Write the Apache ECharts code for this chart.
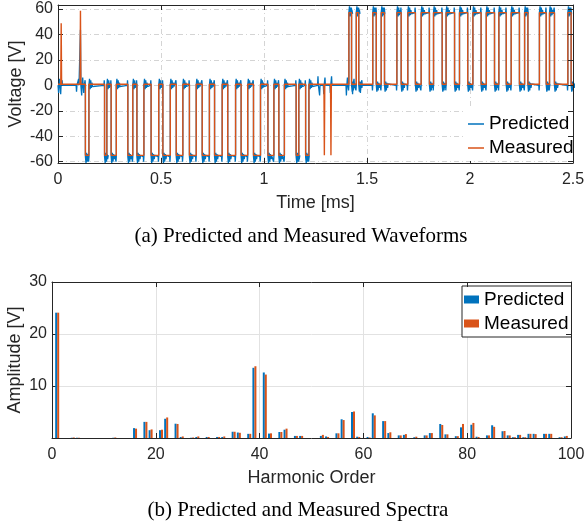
<!DOCTYPE html>
<html>
<head>
<meta charset="utf-8">
<script src="https://cdn.jsdelivr.net/npm/echarts@6.0.0/dist/echarts.min.js"></script>
<style>
html,body{margin:0;padding:0;background:#fff;}
#c{width:587px;height:524px;}
</style>
</head>
<body>
<div id="c"></div>
<script>
// ---------------- Waveform data (times in ms, voltages in V) ----------------
// Negative pulses (both series): [start, end]
const negPulses = [
  [0.133,0.150],[0.226,0.237],[0.258,0.283],[0.339,0.363],[0.383,0.417],
  [0.452,0.489],[0.509,0.545],[0.574,0.606],[0.638,0.671],[0.700,0.735],
  [0.760,0.797],[0.824,0.862],[0.889,0.921],[0.949,0.983],[1.019,1.048],
  [1.072,1.099],[1.156,1.169],[1.202,1.218]
];
// Positive pulses (both series): [start, end]
const posPulses = [
  [1.412,1.425],[1.448,1.460],[1.528,1.545],[1.569,1.585],[1.645,1.666],
  [1.698,1.735],[1.763,1.803],[1.823,1.865],[1.884,1.925],[1.949,1.989],
  [2.014,2.054],[2.079,2.119],[2.140,2.176],[2.200,2.240],[2.265,2.281],
  [2.337,2.370],[2.386,2.410],[2.475,2.491]
];
// Pulse plateau levels
const predictedLevels = {neg: -56, zero: 0, pos: 57};
const measuredLevels  = {neg: -55, zero: 0.8, pos: 57};
// Ringing seen on the predicted trace at each switching edge (V), sample step (ms)
const predictedRinging = [5, -3, 4, -2, 2, -1];
const ringStep = 0.003;
// Isolated spikes [time, value]
const measuredSpikes = [[0.0155,48.7],[0.109,58.4],[1.293,-55],[1.325,-55]];
const predictedSpikes = [
  [0.003,-6],[0.008,5],[0.013,-7],[0.020,4],[0.090,-5],[0.100,5],[0.109,43.5],
  [0.115,-8],[0.120,6],[0.125,-6],[1.262,7],[1.270,-8],[1.290,-7],[1.296,6],
  [1.322,-6],[1.328,7],[1.400,-8],[1.405,6],[1.430,-7],[1.437,5],[1.468,-6],[1.475,4]
];

// ---------------- Spectrum data ----------------
const harmonics = [1,4,5,12,16,18,19,21,22,24,25,27,28,30,32,33,35,36,38,39,41,42,44,45,47,48,
  52,53,55,56,58,59,61,62,64,65,67,68,70,72,73,75,76,78,79,81,82,84,85,87,88,89,90,91,92,93,95,96,98,99];
const predictedAmp = [24.1,0.05,0.05,0.05,1.9,3.1,1.5,1.5,3.7,2.75,0.2,0.05,0.2,0.2,0.2,0.2,1.2,1.05,0.8,13.5,12.6,0.85,1.15,1.6,0.4,0.4,
  0.4,0.3,0.9,3.6,5.0,0.25,0.2,4.75,3.25,0.95,0.5,0.6,0.15,0.5,0.95,2.7,0.7,0.35,2.05,2.55,0.25,0.5,2.45,1.3,0.5,0.15,0.6,0.15,0.8,0.8,0.8,0.8,0.15,0.3];
const measuredAmp = [24.1,0.1,0.05,0.1,1.8,3.1,1.65,1.6,3.95,2.7,0.3,0.1,0.3,0.2,0.2,0.3,1.2,1.0,0.8,13.8,12.2,0.9,1.15,1.8,0.4,0.4,
  0.6,0.2,0.9,3.45,5.1,0.2,0.1,4.35,3.25,1.1,0.5,0.75,0.25,0.5,0.95,2.5,0.7,0.35,2.7,2.9,0.2,0.5,2.15,1.35,0.5,0.15,0.6,0.15,0.8,0.75,0.8,0.8,0.15,0.4];

// ---------------- Build series data ----------------
function edgePts(t, from, to, ring) {
  const s = Math.sign(to - from);
  const pts = [];
  if (ring) {
    pts.push([t - ringStep, from]);
    pts.push([t - ringStep / 2, from - s * ring[0] * 0.8]);
  }
  pts.push([t, from]);
  pts.push([t, to]);
  if (ring) {
    ring.forEach((r, i) => pts.push([t + (i + 1) * ringStep, to + s * r]));
    pts.push([t + (ring.length + 1) * ringStep, to]);
  }
  return pts;
}
function buildWave(levels, ring, spikes) {
  const ev = [];
  negPulses.forEach(([a, b]) => {
    ev.push({t: a, pts: edgePts(a, levels.zero, levels.neg, ring)});
    ev.push({t: b, pts: edgePts(b, levels.neg, levels.zero, ring)});
  });
  posPulses.forEach(([a, b]) => {
    ev.push({t: a, pts: edgePts(a, levels.zero, levels.pos, ring)});
    ev.push({t: b, pts: edgePts(b, levels.pos, levels.zero, ring)});
  });
  spikes.forEach(([t, v]) => ev.push({t: t, pts: [[t - 0.002, levels.zero], [t, v], [t + 0.002, levels.zero]]}));
  ev.sort((p, q) => p.t - q.t);
  const data = [[0, levels.zero]];
  ev.forEach(e => e.pts.forEach(p => data.push(p)));
  data.push([2.5, levels.zero]);
  return data;
}
const predictedWave = buildWave(predictedLevels, predictedRinging, predictedSpikes);
const measuredWave = buildWave(measuredLevels, null, measuredSpikes);
const predictedBars = harmonics.map((h, i) => [h, predictedAmp[i]]);
const measuredBars = harmonics.map((h, i) => [h, measuredAmp[i]]);

// ---------------- Styles ----------------
const ink = '#262626';
const blue = '#0072BD';
const orange = '#D95319';
const sans = '"Liberation Sans", Arial, Helvetica, sans-serif';
const serif = '"Liberation Serif", "Times New Roman", serif';
const labelNames = {pw: 'Predicted', mw: 'Measured', ps: 'Predicted', ms: 'Measured'};

function boxAxis(gridIndex, position, extra) {
  return Object.assign({
    type: 'value', gridIndex: gridIndex, position: position,
    axisLine: {show: true, onZero: false, lineStyle: {color: ink, width: 1}},
    axisTick: {show: true, inside: true, length: 5, lineStyle: {color: ink}},
    axisLabel: {show: false},
    splitLine: {show: false},
    nameMoveOverlap: false,
    z: 0
  }, extra);
}
const waveSplit = {show: true, lineStyle: {color: '#d4d4d4', width: 1, type: [5, 3, 1, 3]}};
const specSplit = {show: true, lineStyle: {color: '#e2e2e2', width: 1}};
const tickLabel = {show: true, color: ink, fontFamily: sans, fontSize: 16};

const chart = echarts.init(document.getElementById('c'), null, {renderer: 'canvas'});
chart.setOption({
  animation: false,
  backgroundColor: '#fff',
  grid: [
    {left: 58, top: 5, right: 14, height: 158, containLabel: false, outerBoundsMode: 'none'},
    {left: 52, top: 282, right: 16, height: 156, containLabel: false, outerBoundsMode: 'none'}
  ],
  xAxis: [
    boxAxis(0, 'bottom', {min: 0, max: 2.5, interval: 0.5,
      axisLabel: Object.assign({}, tickLabel, {margin: 9}),
      splitLine: waveSplit,
      name: 'Time [ms]', nameLocation: 'middle', nameGap: 31,
      nameTextStyle: {color: ink, fontFamily: sans, fontSize: 18}}),
    boxAxis(0, 'top', {min: 0, max: 2.5, interval: 0.5, z: 10}),
    boxAxis(1, 'bottom', {min: 0, max: 100, interval: 20,
      axisLabel: Object.assign({}, tickLabel, {margin: 9}),
      splitLine: specSplit,
      name: 'Harmonic Order', nameLocation: 'middle', nameGap: 31,
      nameTextStyle: {color: ink, fontFamily: sans, fontSize: 18}}),
    boxAxis(1, 'top', {min: 0, max: 100, interval: 20, z: 10})
  ],
  yAxis: [
    boxAxis(0, 'left', {min: -61, max: 63, splitNumber: 5,
      axisLabel: Object.assign({}, tickLabel, {margin: 5, showMinLabel: false, showMaxLabel: false}),
      splitLine: waveSplit,
      name: 'Voltage [V]', nameLocation: 'middle', nameGap: 33,
      nameTextStyle: {color: ink, fontFamily: sans, fontSize: 18}}),
    boxAxis(0, 'right', {min: -61, max: 63, splitNumber: 5, z: 10}),
    boxAxis(1, 'left', {min: 0, max: 30, interval: 10,
      axisLabel: Object.assign({}, tickLabel, {margin: 5, showMinLabel: false}),
      splitLine: specSplit,
      name: 'Amplitude [V]', nameLocation: 'middle', nameGap: 28,
      nameTextStyle: {color: ink, fontFamily: sans, fontSize: 18}}),
    boxAxis(1, 'right', {min: 0, max: 30, interval: 10, z: 10})
  ],
  legend: [
    {
      data: ['pw', 'mw'], orient: 'vertical', left: 463, top: 109,
      padding: [4, 0, 2, 5], itemGap: 2, itemWidth: 16, itemHeight: 1.5,
      icon: 'rect', itemStyle: {borderWidth: 0},
      backgroundColor: '#fff', borderWidth: 0, z: 5,
      formatter: n => labelNames[n],
      textStyle: {color: '#000', fontFamily: sans, fontSize: 19, lineHeight: 22}
    },
    {
      data: ['ps', 'ms'],
      icon: 'rect',
      itemStyle: {borderWidth: 0},
      orient: 'vertical', left: 462, top: 286,
      padding: [3, 3, 3, 2], itemGap: 3, itemWidth: 15, itemHeight: 8,
      backgroundColor: '#fff', borderColor: ink, borderWidth: 1, z: 5,
      formatter: n => labelNames[n],
      textStyle: {color: '#000', fontFamily: sans, fontSize: 19, lineHeight: 21}
    }
  ],
  series: [
    {name: 'pw', type: 'line', xAxisIndex: 0, yAxisIndex: 0, data: predictedWave,
      symbol: 'none', lineStyle: {color: blue, width: 1.3}, itemStyle: {color: blue}, z: 2},
    {name: 'mw', type: 'line', xAxisIndex: 0, yAxisIndex: 0, data: measuredWave,
      symbol: 'none', lineStyle: {color: orange, width: 1.4}, itemStyle: {color: orange}, z: 3},
    {name: 'ps', type: 'bar', xAxisIndex: 2, yAxisIndex: 2, data: predictedBars,
      barWidth: 2, barGap: '0%', itemStyle: {color: blue, borderWidth: 0}},
    {name: 'ms', type: 'bar', xAxisIndex: 2, yAxisIndex: 2, data: measuredBars,
      barWidth: 2, barGap: '0%', itemStyle: {color: orange, borderWidth: 0}}
  ],
  graphic: [
    {type: 'text', x: 301, y: 236, style: {text: '(a) Predicted and Measured Waveforms',
      font: '21px ' + serif, fill: '#000', textAlign: 'center', textVerticalAlign: 'middle'}},
    {type: 'text', x: 298, y: 510, style: {text: '(b) Predicted and Measured Spectra',
      font: '21px ' + serif, fill: '#000', textAlign: 'center', textVerticalAlign: 'middle'}}
  ]
});
</script>
</body>
</html>
